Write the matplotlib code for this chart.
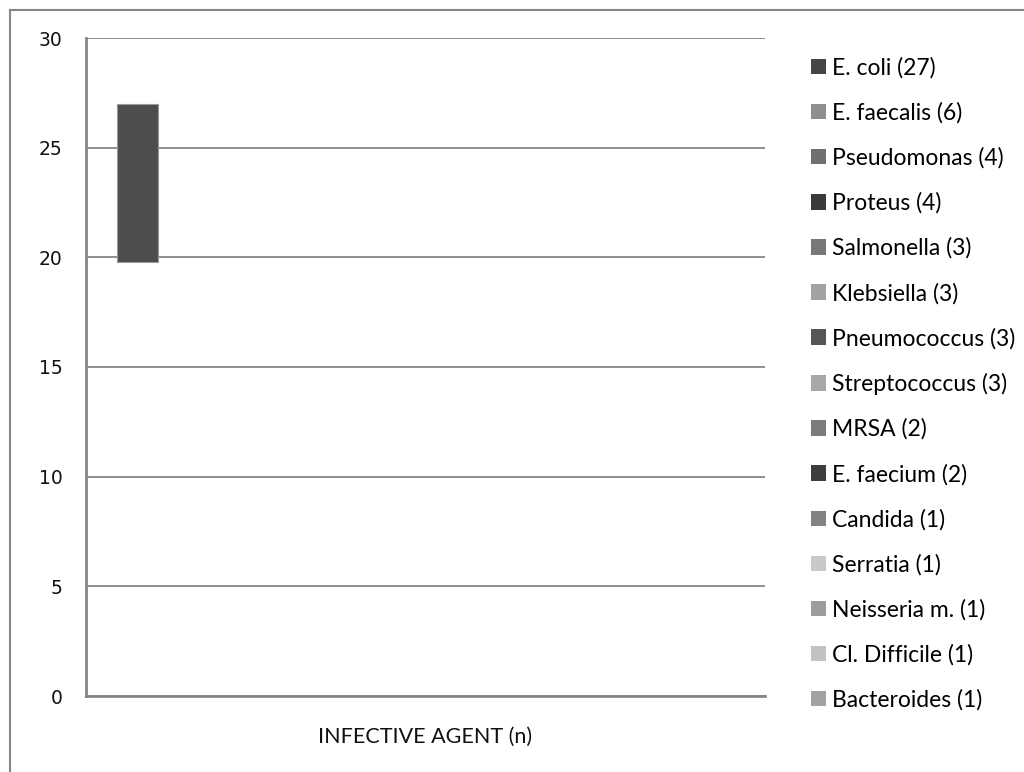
import matplotlib
matplotlib.use('Agg')
import matplotlib.pyplot as plt
from matplotlib.patches import Patch
from matplotlib.lines import Line2D

# organisms isolated, with counts
agents = ['E. coli', 'E. faecalis', 'Pseudomonas', 'Proteus', 'Salmonella',
          'Klebsiella', 'Pneumococcus', 'Streptococcus', 'MRSA', 'E. faecium',
          'Candida', 'Serratia', 'Neisseria m.', 'Cl. Difficile', 'Bacteroides']
counts = [27, 6, 4, 4, 3, 3, 3, 3, 2, 2, 1, 1, 1, 1, 1]
shades = ['#454545', '#8e8e8e', '#707070', '#3a3a3a', '#777777',
          '#a3a3a3', '#555555', '#a8a8a8', '#7c7c7c', '#3e3e3e',
          '#838383', '#c9c9c9', '#9c9c9c', '#c2c2c2', '#a2a2a2']
# only the E. coli bar shows, floating from this base up to its count
ecoli_base = 19.8
category = 'INFECTIVE AGENT (n)'
yticks = [0, 5, 10, 15, 20, 25, 30]

grey = '#868686'

fig = plt.figure(figsize=(10.24, 7.72), dpi=100)
ax = fig.add_axes([86 / 1024, 1 - 696 / 772, (765 - 86) / 1024, (696 - 38) / 772])

# clustered layout: 15 series sharing one category, gap width 150%
n = len(agents)
slot = 1 / (n + 1.5)
x0 = 0.75 * slot + 0.5 * slot
ax.bar(x0, counts[0] - ecoli_base, bottom=ecoli_base, width=slot,
       color='#4d4d4d', edgecolor='#9a9a9a', linewidth=0.8, zorder=3)

ax.set_xlim(0, 1)
ax.set_ylim(0, 30)
ax.set_yticks(yticks)
ax.set_yticklabels([str(v) for v in yticks], fontsize=13.5, family='DejaVu Sans', color='#111111')
ax.set_xticks([0.5])
ax.set_xticklabels([category], fontsize=15.5, family='Lato', color='#111111')
ax.tick_params(axis='y', length=0, pad=17)
ax.tick_params(axis='x', length=0, pad=22)
ax.yaxis.grid(True, color=grey, linewidth=1.3, zorder=0)
for side in ['top', 'right']:
    ax.spines[side].set_visible(False)
for side in ['left', 'bottom']:
    ax.spines[side].set_color(grey)
    ax.spines[side].set_linewidth(2)

handles = [Patch(facecolor=c, edgecolor='none') for c in shades]
labels = [f'{a} ({v})' for a, v in zip(agents, counts)]
fig.legend(handles, labels, loc='upper left', bbox_to_anchor=(811 / 1024, 1 - 57 / 772),
           frameon=False, prop={'family': 'Lato', 'size': 16.5},
           handlelength=0.66, handleheight=0.66, handletextpad=0.26,
           labelspacing=1.03, borderaxespad=0, borderpad=0)

# chart area border
fig.add_artist(Line2D([10 / 1024, 10 / 1024], [0, 1 - 10 / 772], color=grey, linewidth=1.5))
fig.add_artist(Line2D([10 / 1024, 1], [1 - 10 / 772, 1 - 10 / 772], color=grey, linewidth=1.5))

fig.savefig('out.png', dpi=100)
